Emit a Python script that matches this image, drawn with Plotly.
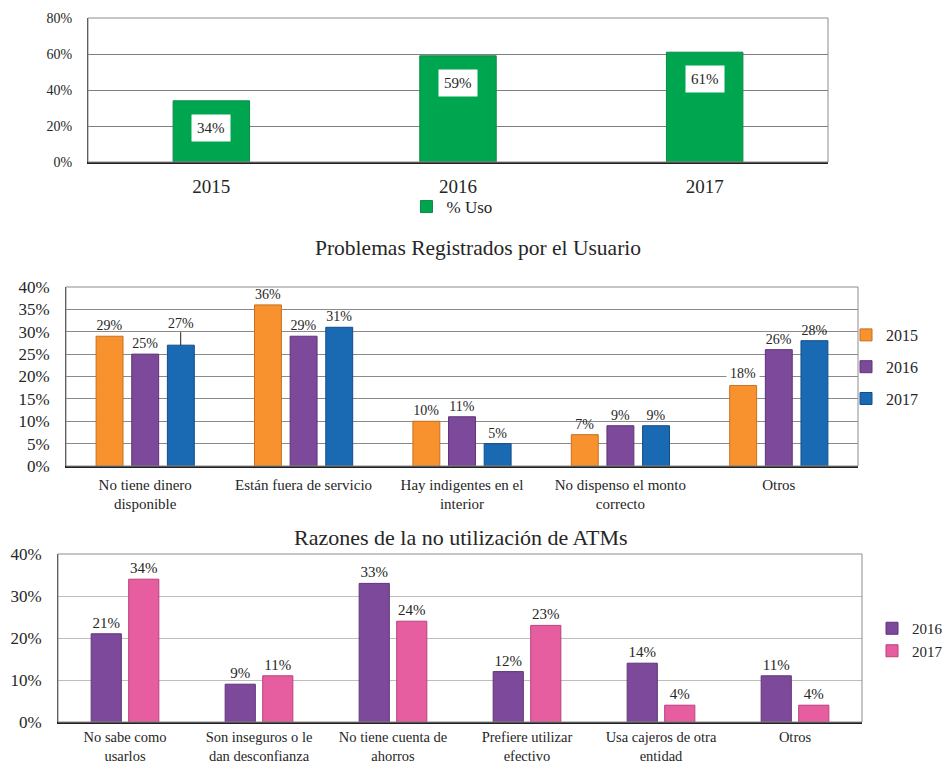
import plotly.graph_objects as go

# ---------------- data ----------------
uso_years = ["2015", "2016", "2017"]
uso_values = [34, 59, 61]

prob_categories = ["No tiene dinero<br>disponible", "Están fuera de servicio",
                   "Hay indigentes en el<br>interior", "No dispenso el monto<br>correcto", "Otros"]
prob_2015 = [29, 36, 10, 7, 18]
prob_2016 = [25, 29, 11, 9, 26]
prob_2017 = [27, 31, 5, 9, 28]

razon_categories = ["No sabe como<br>usarlos", "Son inseguros o le<br>dan desconfianza",
                    "No tiene cuenta de<br>ahorros", "Prefiere utilizar<br>efectivo",
                    "Usa cajeros de otra<br>entidad", "Otros"]
razon_2016 = [21, 9, 33, 12, 14, 11]
razon_2017 = [34, 11, 24, 23, 4, 4]

W, H = 945, 767
FONT = "Liberation Serif, 'Times New Roman', Times, serif"
TXT = "#262626"

GREEN = "#00A54F"
ORANGE = "#F7922F"
PURPLE = "#7D499B"
BLUE = "#1A69B3"
PINK = "#E75EA0"


def dx(a, b):
    return [a / W, b / W]


def dy(top, bottom):
    return [1 - bottom / H, 1 - top / H]


def pct(vals):
    return [f"{v}%" for v in vals]


fig = go.Figure()

# ---------- chart 1 (numeric positions, year tick labels) ----------
uso_pos = list(range(len(uso_years)))
fig.add_trace(go.Bar(
    x=uso_pos, y=uso_values, name="% Uso", marker=dict(color=GREEN, line=dict(color="#0E8A45", width=1)),
    width=0.31, xaxis="x", yaxis="y", legend="legend",
))

# ---------- chart 2 ----------
t15 = pct(prob_2015)
t16 = pct(prob_2016)
t17 = pct(prob_2017)
t17[0] = ""   # drawn with a leader line below
t15[4] = ""   # drawn with white background below
w2 = 0.17
for vals, txt, name, col, lc, off, grp in [
    (prob_2015, t15, "2015", ORANGE, "#C8701E", -0.225, "a"),
    (prob_2016, t16, "2016", PURPLE, "#5E3478", 0.0, "b"),
    (prob_2017, t17, "2017", BLUE, "#124E88", 0.225, "c"),
]:
    fig.add_trace(go.Bar(
        x=prob_categories, y=vals, name=name, width=w2, offset=off - w2 / 2,
        marker=dict(color=col, line=dict(color=lc, width=1)),
        text=txt, textposition="outside", textfont=dict(family=FONT, size=14, color=TXT),
        cliponaxis=False, xaxis="x2", yaxis="y2", legend="legend2", legendgroup=grp,
    ))

# ---------- chart 3 ----------
w3 = 0.225
for vals, name, col, lc, off in [
    (razon_2016, "2016", PURPLE, "#5E3478", -0.14),
    (razon_2017, "2017", PINK, "#B8417C", 0.14),
]:
    fig.add_trace(go.Bar(
        x=razon_categories, y=vals, name=name, width=w3, offset=off - w3 / 2,
        marker=dict(color=col, line=dict(color=lc, width=1)),
        text=pct(vals), textposition="outside", textfont=dict(family=FONT, size=15, color=TXT),
        cliponaxis=False, xaxis="x3", yaxis="y3", legend="legend3",
    ))

annotations = []
# chart 1 labels (white boxes inside bars)
for p, v in zip(uso_pos, uso_values):
    annotations.append(dict(
        x=p, y=v - 15, xref="x", yref="y", text=f"{v}%", showarrow=False,
        bgcolor="white", borderpad=5, font=dict(family=FONT, size=15, color=TXT),
    ))
# chart 2 special labels
annotations.append(dict(
    x=prob_categories[0], y=prob_2017[0], xref="x2", yref="y2", xshift=35.5,
    text=f"{prob_2017[0]}%", showarrow=True, ax=0, ay=-22, arrowhead=0, arrowwidth=1,
    arrowcolor="#222", font=dict(family=FONT, size=14, color=TXT),
))
annotations.append(dict(
    x=prob_categories[4], y=prob_2015[4], xref="x2", yref="y2", xshift=-35.5, yshift=12,
    text=f"{prob_2015[4]}%", showarrow=False, bgcolor="white", borderpad=3,
    font=dict(family=FONT, size=14, color=TXT),
))
# titles
annotations.append(dict(
    x=478 / W, y=1 - 248 / H, xref="paper", yref="paper", text="Problemas Registrados por el Usuario",
    showarrow=False, font=dict(family=FONT, size=21.5, color=TXT), yanchor="middle",
))
annotations.append(dict(
    x=461 / W, y=1 - 537 / H, xref="paper", yref="paper", text="Razones de la no utilización de ATMs",
    showarrow=False, font=dict(family=FONT, size=22, color=TXT), yanchor="middle",
))

shapes = []
for xa, ya in [("x", "y"), ("x2", "y2"), ("x3", "y3")]:
    shapes.append(dict(type="rect", xref=f"{xa} domain", yref=f"{ya} domain",
                       x0=0, x1=1, y0=0, y1=1, line=dict(color="#8C8C8C", width=1), layer="above"))


def yax(domain, rng, dtick, size, grid, standoff, anchor):
    return dict(domain=domain, range=rng, dtick=dtick, ticksuffix="%", showgrid=True,
                gridcolor=grid, gridwidth=1, zeroline=False, showline=True, linecolor="#333",
                linewidth=1, ticks="", ticklabelstandoff=standoff, anchor=anchor, automargin=False,
                tickfont=dict(family=FONT, size=size, color=TXT), fixedrange=True)


def xax(domain, size, anchor, **kw):
    d = dict(domain=domain, showline=True, linecolor="#222", linewidth=1.5,
             ticks="", showgrid=False, zeroline=False, anchor=anchor, automargin=False,
             tickfont=dict(family=FONT, size=size, color=TXT))
    d.update(kw)
    return d


legend_common = dict(font=dict(family=FONT, color=TXT), bgcolor="rgba(0,0,0,0)")

fig.update_layout(
    width=W, height=H, margin=dict(l=0, r=0, t=0, b=0, autoexpand=False),
    paper_bgcolor="white", plot_bgcolor="white",
    font=dict(family=FONT, color=TXT),
    barmode="overlay",
    showlegend=True,
    xaxis=xax(dx(88, 828), 19, "y", type="linear", range=[-0.5, len(uso_years) - 0.5],
              tickmode="array", tickvals=uso_pos, ticktext=uso_years, ticklabelstandoff=6),
    yaxis=yax(dy(18, 162), [0, 80], 20, 14, "#7F7F7F", 12, "x"),
    xaxis2=xax(dx(66, 858), 15, "y2", type="category", ticklabelstandoff=4),
    yaxis2=yax(dy(287, 466), [0, 40], 5, 17, "#8A8A8A", 12, "x2"),
    xaxis3=xax(dx(58, 862), 14.5, "y3", type="category", ticklabelstandoff=1),
    yaxis3=yax(dy(554, 722), [0, 40], 10, 17, "#BDBDBD", 12, "x3"),
    legend=dict(**legend_common, orientation="h", x=452 / W, xanchor="center",
                y=1 - 207 / H, yanchor="middle", font_size=17, itemwidth=30),
    legend2=dict(**legend_common, x=846 / W, xanchor="left", y=1 - 318 / H, yanchor="top",
                 font_size=16, traceorder="grouped", tracegroupgap=8, itemwidth=30),
    legend3=dict(**legend_common, x=872 / W, xanchor="left", y=1 - 612 / H, yanchor="top",
                 font_size=15, itemwidth=30),
    annotations=annotations,
    shapes=shapes,
)

fig.write_html("out.html", config={"displayModeBar": False},
               post_script="document.body.style.margin='0';document.body.style.padding='0';")
